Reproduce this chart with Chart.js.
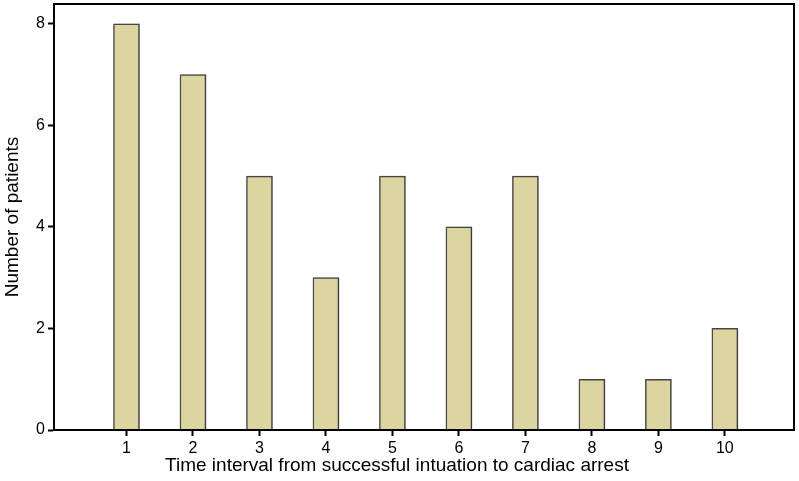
<!DOCTYPE html>
<html>
<head>
<meta charset="utf-8">
<script src="https://cdn.jsdelivr.net/npm/chart.js@4/dist/chart.umd.min.js"></script>
<style>
html,body{margin:0;padding:0;background:#fff;}
#wrap{width:799px;height:481px;}
</style>
</head>
<body>
<div id="wrap"><canvas id="c" width="799" height="481"></canvas></div>
<script>
const categories = [1, 2, 3, 4, 5, 6, 7, 8, 9, 10];
const patientCounts = [8, 7, 5, 3, 5, 4, 5, 1, 1, 2];
const yTickValues = [0, 2, 4, 6, 8];
const xTickValues = [1, 2, 3, 4, 5, 6, 7, 8, 9, 10];
const xTitle = 'Time interval from successful intuation to cardiac arrest';
const yTitle = 'Number of patients';

const FONT = 'Liberation Sans, Arial, sans-serif';

const frame = {
  id: 'frame',
  afterDraw(chart) {
    const a = chart.chartArea, ctx = chart.ctx;
    ctx.save();
    ctx.strokeStyle = '#000';
    ctx.lineWidth = 2;
    ctx.strokeRect(a.left, a.top, a.right - a.left, a.bottom - a.top);
    ctx.restore();
  }
};
const shadow = {
  id: 'shadow',
  beforeDatasetDraw(chart) {
    const ctx = chart.ctx;
    ctx.save();
    ctx.shadowColor = 'rgba(0,0,0,0.22)';
    ctx.shadowOffsetX = 2;
    ctx.shadowOffsetY = 0;
    ctx.shadowBlur = 2;
  },
  afterDatasetDraw(chart) { chart.ctx.restore(); }
};

new Chart(document.getElementById('c'), {
  type: 'bar',
  data: {
    datasets: [{
      data: categories.map((c, i) => ({ x: c, y: patientCounts[i] })),
      backgroundColor: '#ddd59f',
      borderColor: '#4a4a4a',
      borderWidth: 1.5,
      barThickness: 26
    }]
  },
  plugins: [shadow, frame],
  options: {
    responsive: false,
    animation: false,
    devicePixelRatio: 1,
    layout: { padding: { left: 0, top: 4, right: 5, bottom: 0 } },
    plugins: {
      legend: { display: false },
      tooltip: { enabled: false },
      title: {
        display: true,
        position: 'bottom',
        align: 'center',
        text: xTitle,
        color: '#000',
        font: { family: FONT, size: 19, weight: 'normal' },
        padding: { top: 0, bottom: 4 }
      }
    },
    scales: {
      x: {
        type: 'linear',
        offset: false,
        min: -0.09,
        max: 11.04,
        afterBuildTicks(s) { s.ticks = xTickValues.map(v => ({ value: v })); },
        afterFit(s) { s.height = 24.2; s.paddingLeft = 0; s.paddingRight = 0; },
        grid: { display: true, offset: false, drawOnChartArea: false, drawTicks: true, tickLength: 6, tickWidth: 2, tickColor: '#000' },
        border: { display: true, color: '#000', width: 2 },
        ticks: { color: '#000', padding: 3, font: { family: FONT, size: 16 }, maxRotation: 0, autoSkip: false }
      },
      y: {
        min: 0,
        max: 8.39,
        afterBuildTicks(s) { s.ticks = yTickValues.map(v => ({ value: v })); },
        afterFit(s) { s.width = 54; s.paddingTop = 0; s.paddingBottom = 0; },
        grid: { display: true, drawOnChartArea: false, drawTicks: true, tickLength: 6, tickWidth: 2, tickColor: '#000' },
        border: { display: true, color: '#000', width: 2 },
        ticks: { color: '#000', padding: 3, font: { family: FONT, size: 16 } },
        title: { display: true, text: yTitle, color: '#000', font: { family: FONT, size: 19 }, padding: { top: 1, bottom: 0 } }
      }
    }
  }
});
</script>
</body>
</html>
